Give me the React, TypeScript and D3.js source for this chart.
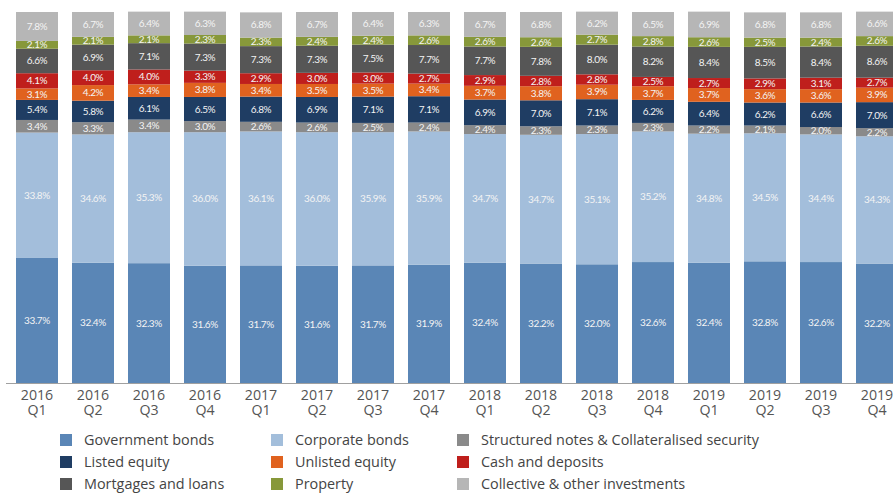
import React from "react";
import * as d3 from "d3";

const categories = [
  "2016 Q1", "2016 Q2", "2016 Q3", "2016 Q4",
  "2017 Q1", "2017 Q2", "2017 Q3", "2017 Q4",
  "2018 Q1", "2018 Q2", "2018 Q3", "2018 Q4",
  "2019 Q1", "2019 Q2", "2019 Q3", "2019 Q4",
];

const governmentBonds = [33.7, 32.4, 32.3, 31.6, 31.7, 31.6, 31.7, 31.9, 32.4, 32.2, 32.0, 32.6, 32.4, 32.8, 32.6, 32.2];
const corporateBonds = [33.8, 34.6, 35.3, 36.0, 36.1, 36.0, 35.9, 35.9, 34.7, 34.7, 35.1, 35.2, 34.8, 34.5, 34.4, 34.3];
const structuredNotes = [3.4, 3.3, 3.4, 3.0, 2.6, 2.6, 2.5, 2.4, 2.4, 2.3, 2.3, 2.3, 2.2, 2.1, 2.0, 2.2];
const listedEquity = [5.4, 5.8, 6.1, 6.5, 6.8, 6.9, 7.1, 7.1, 6.9, 7.0, 7.1, 6.2, 6.4, 6.2, 6.6, 7.0];
const unlistedEquity = [3.1, 4.2, 3.4, 3.8, 3.4, 3.5, 3.5, 3.4, 3.7, 3.8, 3.9, 3.7, 3.7, 3.6, 3.6, 3.9];
const cashDeposits = [4.1, 4.0, 4.0, 3.3, 2.9, 3.0, 3.0, 2.7, 2.9, 2.8, 2.8, 2.5, 2.7, 2.9, 3.1, 2.7];
const mortgagesLoans = [6.6, 6.9, 7.1, 7.3, 7.3, 7.3, 7.5, 7.7, 7.7, 7.8, 8.0, 8.2, 8.4, 8.5, 8.4, 8.6];
const property = [2.1, 2.1, 2.1, 2.3, 2.3, 2.4, 2.4, 2.6, 2.6, 2.6, 2.7, 2.8, 2.6, 2.5, 2.4, 2.6];
const collective = [7.8, 6.7, 6.4, 6.3, 6.8, 6.7, 6.4, 6.3, 6.7, 6.8, 6.2, 6.5, 6.9, 6.8, 6.8, 6.6];

const seriesNames = [
  "Government bonds",
  "Corporate bonds",
  "Structured notes & Collateralised security",
  "Listed equity",
  "Unlisted equity",
  "Cash and deposits",
  "Mortgages and loans",
  "Property",
  "Collective & other investments",
];
const seriesValues = [
  governmentBonds, corporateBonds, structuredNotes, listedEquity, unlistedEquity,
  cashDeposits, mortgagesLoans, property, collective,
];
const seriesColors = [
  "#5a86b6", "#a3bedb", "#8a8a8a", "#1f3d63", "#e0621f",
  "#bf1f1c", "#565656", "#87983a", "#b6b6b6",
];

// legend layout: columns of series indices
const legendOrder = [
  [0, 3, 6],
  [1, 4, 7],
  [2, 5, 8],
];

export default function App() {
  const W = 893, H = 493;
  const x = d3.scaleBand<string>().domain(categories).range([16, 898]).paddingInner(0.25).paddingOuter(0);
  const y = d3.scaleLinear().domain([0, 100]).range([383, 12]);

  const table = categories.map((c, i) => {
    const row: any = { cat: c };
    seriesNames.forEach((n, k) => (row[n] = seriesValues[k][i]));
    return row;
  });
  const stacked = d3.stack<any>().keys(seriesNames)(table);

  const legendX = [60, 271, 457];
  const legendY = [440, 462, 484];
  const font = "'Open Sans', 'Noto Sans', sans-serif";

  return (
    <svg width={W} height={H} style={{ position: "absolute", left: 0, top: 0, background: "#fff" }}>
      {stacked.map((layer, k) => (
        <g key={layer.key} fill={seriesColors[k]}>
          {layer.map((d, i) => {
            const x0 = x(categories[i])!;
            const yt = y(d[1]);
            const yb = y(d[0]);
            return (
              <g key={i}>
                <rect x={x0} y={yt} width={x.bandwidth()} height={yb - yt} />
                <text
                  x={x0 + x.bandwidth() / 2}
                  y={(yt + yb) / 2}
                  dy="0.35em"
                  textAnchor="middle"
                  fill="#f4f4f4"
                  fontSize={10}
                  letterSpacing={-0.4}
                  fontFamily="Lato, 'Open Sans', sans-serif"
                >
                  {seriesValues[k][i].toFixed(1)}%
                </text>
              </g>
            );
          })}
        </g>
      ))}
      <line x1={6} x2={W} y1={383.5} y2={383.5} stroke="#a0a0a0" strokeWidth={1.2} />
      {categories.map((c) => {
        const [yr, q] = c.split(" ");
        const cx = x(c)! + x.bandwidth() / 2;
        return (
          <g key={c} fill="#555" fontSize={14.2} fontFamily={font} textAnchor="middle">
            <text x={cx} y={399.5}>{yr}</text>
            <text x={cx} y={415}>{q}</text>
          </g>
        );
      })}
      {legendOrder.map((col, ci) =>
        col.map((k, ri) => (
          <g key={k}>
            <rect x={legendX[ci]} y={legendY[ri] - 6} width={12} height={12} fill={seriesColors[k]} />
            <text x={legendX[ci] + 24} y={legendY[ri]} dy="0.35em" fill="#444" fontSize={14.4} fontFamily={font}>
              {seriesNames[k]}
            </text>
          </g>
        ))
      )}
    </svg>
  );
}
